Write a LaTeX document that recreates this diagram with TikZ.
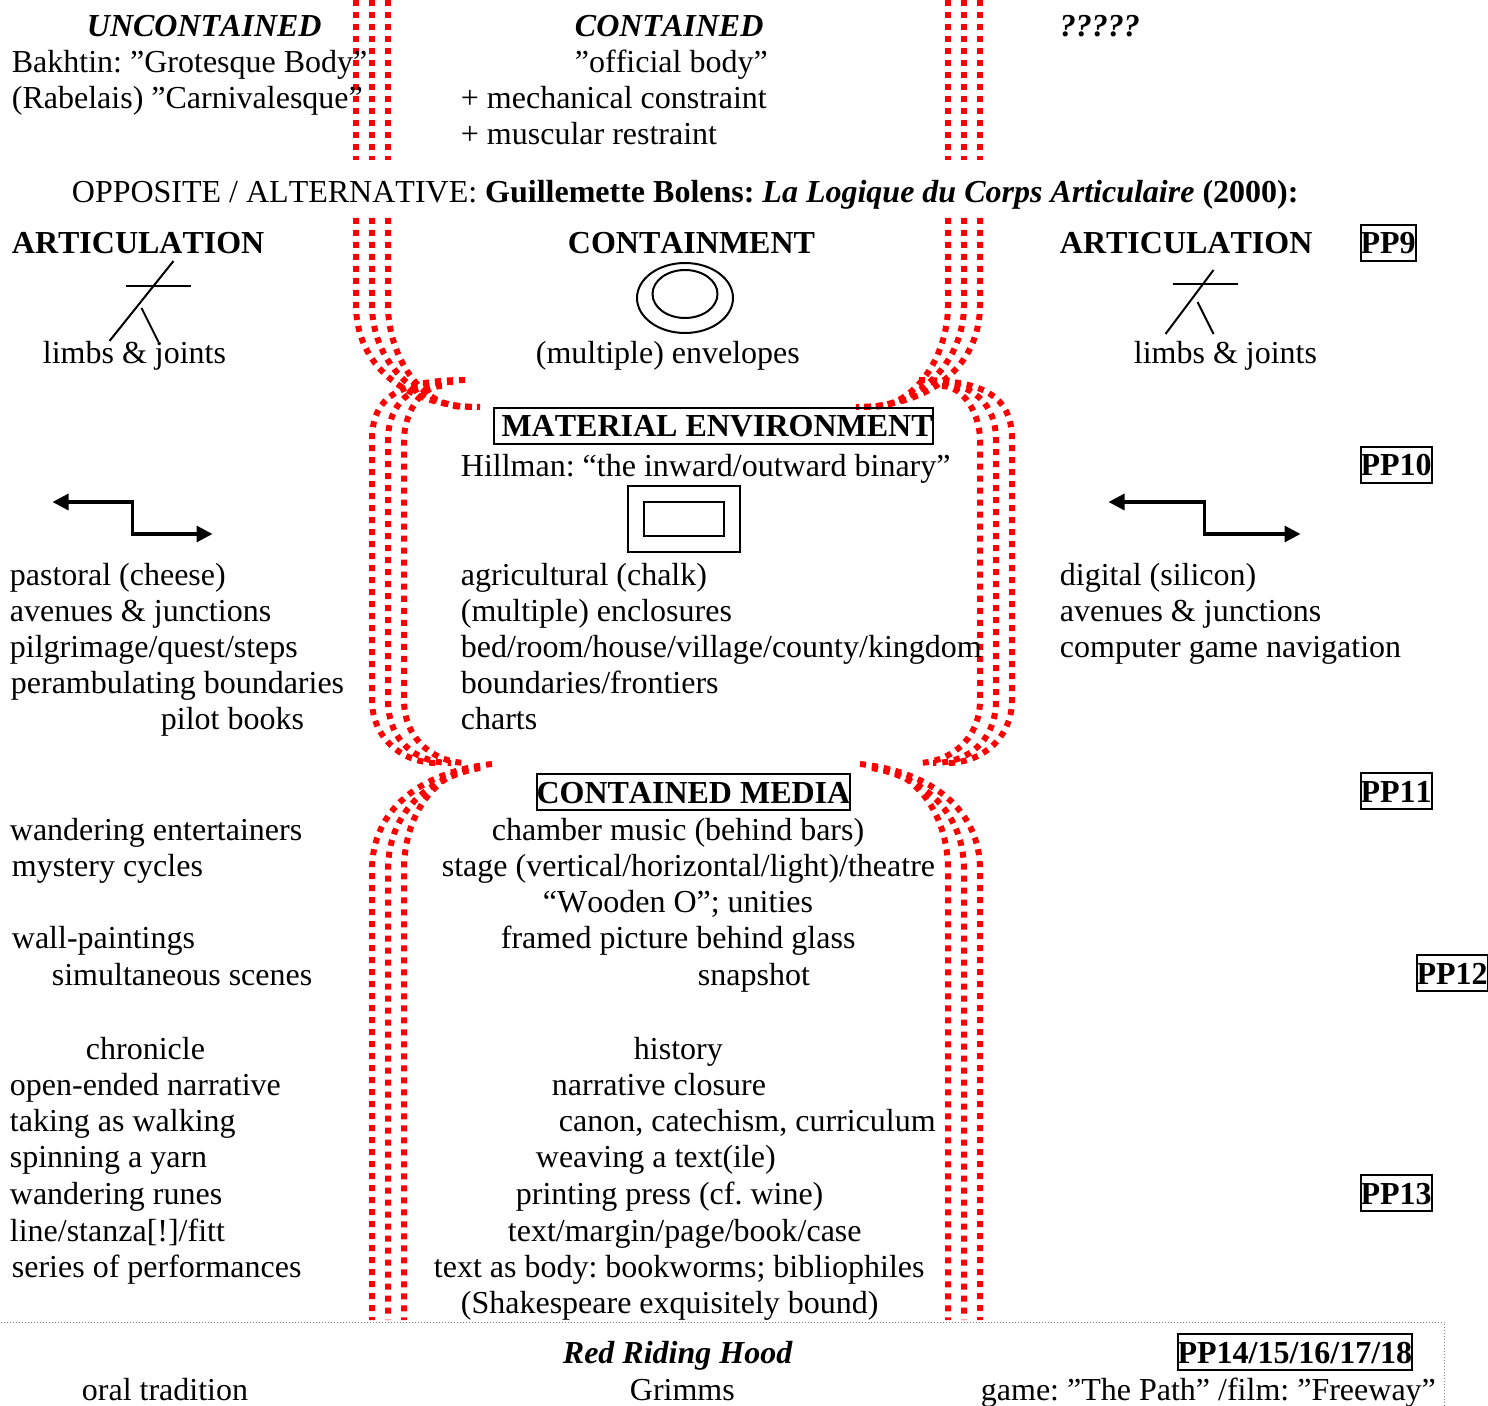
\documentclass[tikz,border=0pt]{standalone}
\usepackage{fontspec}
\setmainfont{Liberation Serif}[Kerning=Off,Ligatures=NoCommon]
\frenchspacing
\usetikzlibrary{arrows.meta}

\begin{document}
\begin{tikzpicture}[
      x=0.5pt, y=-0.5pt,
      every node/.style={inner sep=0pt, anchor=base west, xshift=0.25pt, font=\fontsize{16}{18}\selectfont},
      redline/.style={draw=red, line width=3pt, dash pattern=on 3pt off 3pt},
      thinline/.style={line width=1pt},
      turnarrow/.style={line width=1.6pt, {Triangle[length=8pt,width=8pt]}-{Triangle[length=8pt,width=8pt]}},
      ppbox/.style={draw, line width=1pt, text height=14.5pt, text depth=3.5pt, font=\fontsize{16}{18}\selectfont\bfseries}
    ]
    \useasboundingbox (0,0) rectangle (1488,1406);

    % top two bands of red
    \foreach \x in {356,372,388,948,964,980}
      \draw[redline] (\x,0) -- (\x,160);
    \foreach \m/\s in {0/1,1336/-1} {
      \begin{scope}[shift={(\m,0)}, xscale=\s]
        \draw[redline] (356,218) -- (356,305) .. controls (356,365) and (405,407) .. (480,407);
        \draw[redline] (372,218) -- (372,305) .. controls (372,360) and (415,407) .. (472,407);
        \draw[redline] (388,218) -- (388,305) .. controls (388,355) and (420,407) .. (465,407);
      \end{scope}
    }
    % middle band
    \foreach \m/\s in {0/1,1384/-1} {
      \begin{scope}[shift={(\m,0)}, xscale=\s]
        \draw[redline] (465,380) .. controls (395,380) and (372,400) .. (372,440) -- (372,700) .. controls (372,740) and (405,763) .. (436,763);
        \draw[redline] (453,382) .. controls (410,382) and (388,405) .. (388,440) -- (388,700) .. controls (388,740) and (415,763) .. (451,763);
        \draw[redline] (442,386) .. controls (420,386) and (404,415) .. (404,440) -- (404,700) .. controls (404,740) and (435,763) .. (467,763);
      \end{scope}
    }
    % lower band
    \foreach \m/\s in {0/1,1352/-1} {
      \begin{scope}[shift={(\m,0)}, xscale=\s]
        \draw[redline] (492,764) .. controls (420,772) and (372,810) .. (372,870) -- (372,1320);
        \draw[redline] (480,768) .. controls (425,778) and (388,815) .. (388,870) -- (388,1320);
        \draw[redline] (468,769) .. controls (435,776) and (404,815) .. (404,870) -- (404,1320);
      \end{scope}
    }

    % dotted frame at the foot
    \coordinate (frameA) at (0,1322);
    \coordinate (frameB) at (1444,1322);
    \coordinate (frameC) at (1444,1406);
    \draw[gray, line width=0.5pt, densely dotted] (frameA) -- (frameB) -- (frameC);

    % first block
    \node (uncontained) at (86,37) {\bfseries\itshape UNCONTAINED};
    \node (contained) at (574,37) {\bfseries\itshape CONTAINED};
    \node (unknown) at (1059,37) {\bfseries\itshape ?????};
    \node (bakhtin) at (11,73) {Bakhtin: ”Grotesque Body”};
    \node (rabelais) at (11,109) {(Rabelais) ”Carnivalesque”};
    \node (official) at (574,73) {”official body”};
    \node (mechanical) at (460,109) {+ mechanical constraint};
    \node (muscular) at (460,145) {+ muscular restraint};
    \node (opposite) at (71,203) {OPPOSITE / ALTERNATIVE: \textbf{Guillemette Bolens: \textit{La Logique du Corps Articulaire} (2000):}};

    % articulation and containment
    \node (artleft) at (11,254) {\bfseries ARTICULATION};
    \node (containment) at (567,254) {\bfseries CONTAINMENT};
    \node (artright) at (1059,254) {\bfseries ARTICULATION};
    \node[ppbox] (ppnine) at (1359,254) {PP9};
    \node (limbsleft) at (42,364) {limbs \& joints};
    \node (envelopes) at (535,364) {(multiple) envelopes};
    \node (limbsright) at (1133,364) {limbs \& joints};
    \coordinate (limbA) at (173,261);
    \coordinate (limbB) at (109,341);
    \coordinate (limbC) at (125,286);
    \coordinate (limbD) at (190,286);
    \coordinate (limbE) at (141,308);
    \coordinate (limbF) at (158,342);
    \draw[thinline] (limbA) -- (limbB);
    \draw[thinline] (limbC) -- (limbD);
    \draw[thinline] (limbE) -- (limbF);
    \coordinate (jointA) at (1213,270);
    \coordinate (jointB) at (1165,334);
    \coordinate (jointC) at (1172,284);
    \coordinate (jointD) at (1237,284);
    \coordinate (jointE) at (1197,302);
    \coordinate (jointF) at (1213,334);
    \draw[thinline] (jointA) -- (jointB);
    \draw[thinline] (jointC) -- (jointD);
    \draw[thinline] (jointE) -- (jointF);
    \draw[thinline] (685,298) ellipse (48 and 35);
    \draw[thinline] (685,294) ellipse (32.5 and 24);

    % material environment
    \node[ppbox] (material) at (492,437) {\hspace*{4pt}MATERIAL ENVIRONMENT};
    \node (hillman) at (460,477) {Hillman: “the inward/outward binary”};
    \node[ppbox] (ppten) at (1359,476) {PP10};
    \draw[thinline] (628,486) rectangle (740,552);
    \draw[thinline] (644,502) rectangle (724,536);
    \coordinate (turnAa) at (52,502);
    \coordinate (turnAb) at (132,502);
    \coordinate (turnAc) at (132,534);
    \coordinate (turnAd) at (212,534);
    \draw[turnarrow] (turnAa) -- (turnAb) -- (turnAc) -- (turnAd);
    \coordinate (turnBa) at (1108,502);
    \coordinate (turnBb) at (1204,502);
    \coordinate (turnBc) at (1204,534);
    \coordinate (turnBd) at (1300,534);
    \draw[turnarrow] (turnBa) -- (turnBb) -- (turnBc) -- (turnBd);

    \node (pastoral) at (9,586) {pastoral (cheese)};
    \node (avenuesleft) at (9,621) {avenues \& junctions};
    \node (pilgrimage) at (9,657) {pilgrimage/quest/steps};
    \node (perambulating) at (10,693) {perambulating boundaries};
    \node (pilot) at (160,729) {pilot books};
    \node (agricultural) at (460,586) {agricultural (chalk)};
    \node (enclosures) at (460,621) {(multiple) enclosures};
    \node (bedroom) at (460,657) {bed/room/house/village/county/kingdom};
    \node (frontiers) at (460,693) {boundaries/frontiers};
    \node (charts) at (460,729) {charts};
    \node (digital) at (1059,586) {digital (silicon)};
    \node (avenuesright) at (1059,621) {avenues \& junctions};
    \node (computer) at (1059,657) {computer game navigation};

    % contained media
    \node[ppbox] (media) at (535,803) {CONTAINED MEDIA};
    \node[ppbox] (ppeleven) at (1359,802) {PP11};
    \node (entertainers) at (9,840) {wandering entertainers};
    \node (mystery) at (11,876) {mystery cycles};
    \node (wall) at (11,948) {wall-paintings};
    \node (simultaneous) at (51,985) {simultaneous scenes};
    \node (chamber) at (491,840) {chamber music (behind bars)};
    \node (stage) at (441,876) {stage (vertical/horizontal/light)/theatre};
    \node (wooden) at (542,912) {“Wooden O”; unities};
    \node (framed) at (500,948) {framed picture behind glass};
    \node (snapshot) at (697,985) {snapshot};
    \node[ppbox] (pptwelve) at (1415,984) {PP12};

    \node (chronicle) at (85,1059) {chronicle};
    \node (openended) at (9,1095) {open-ended narrative};
    \node (taking) at (9,1131) {taking as walking};
    \node (spinning) at (9,1167) {spinning a yarn};
    \node (runes) at (9,1204) {wandering runes};
    \node (stanza) at (9,1241) {line/stanza[!]/fitt};
    \node (series) at (11,1277) {series of performances};
    \node (history) at (633,1059) {history};
    \node (closure) at (551,1095) {narrative closure};
    \node (canon) at (558,1131) {canon, catechism, curriculum};
    \node (weaving) at (535,1167) {weaving a text(ile)};
    \node (printing) at (515,1204) {printing press (cf. wine)};
    \node (margin) at (507,1241) {text/margin/page/book/case};
    \node (asbody) at (433,1277) {text as body: bookworms; bibliophiles};
    \node (bound) at (460,1313) {(Shakespeare exquisitely bound)};
    \node[ppbox] (ppthirteen) at (1359,1204) {PP13};

    % foot
    \node (riding) at (562,1363) {\bfseries\itshape Red Riding Hood};
    \node[ppbox] (ppfourteen) at (1176,1363) {PP14/15/16/17/18};
    \node (oral) at (81,1400) {oral tradition};
    \node (grimms) at (629,1400) {Grimms};
    \node (game) at (980,1400) {game: ”The Path” /film: ”Freeway”};
\end{tikzpicture}
\end{document}
